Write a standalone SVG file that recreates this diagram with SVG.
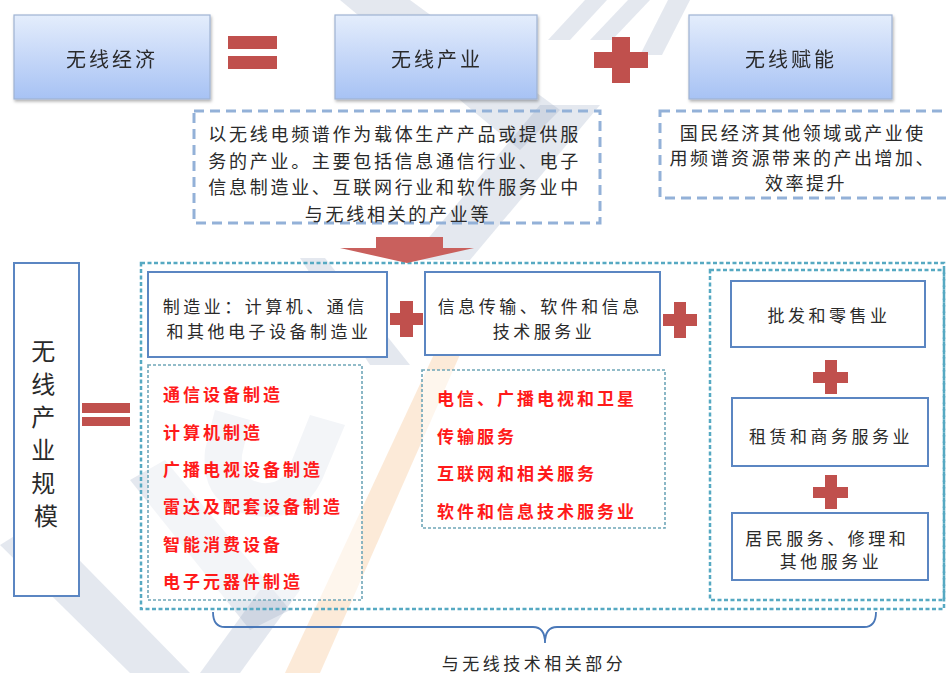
<svg xmlns="http://www.w3.org/2000/svg" width="946" height="673" viewBox="0 0 946 673">
<defs>
<linearGradient id="gTop" x1="0" y1="0" x2="0" y2="1">
<stop offset="0" stop-color="#e4edfc"/>
<stop offset="1" stop-color="#a7c2f4"/>
</linearGradient>
<filter id="sh" x="-10%" y="-10%" width="130%" height="140%">
<feDropShadow dx="1" dy="2" stdDeviation="1.5" flood-color="#000" flood-opacity="0.3"/>
</filter>
<style>
.t{font-family:"Noto Sans CJK SC","Noto Sans",sans-serif;fill:#2a2a2a;text-anchor:middle;dominant-baseline:central}
.tl{font-family:"Noto Sans CJK SC","Noto Sans",sans-serif;dominant-baseline:central}
.top{fill:url(#gTop);stroke:#9fb3d3;stroke-width:1.2}
.desc{fill:none;stroke:#93b1d8;stroke-width:3;stroke-dasharray:10 6}
.solid{fill:#fff;stroke:#5b86c2;stroke-width:2}
.outer{fill:none;stroke:#56a9c2;stroke-width:2.5;stroke-dasharray:4 2.5}
.inner{fill:#fff;fill-opacity:0.55;stroke:#6fa6b8;stroke-width:1.6;stroke-dasharray:3 2}
.op{fill:#c0504d}
.red{font-family:"Noto Sans CJK SC","Noto Sans",sans-serif;fill:#ff1a1a;font-weight:bold;font-size:17px;letter-spacing:3px;dominant-baseline:central}
.wm{fill:#8596b8;opacity:0.22}
</style>
</defs>
<rect width="946" height="673" fill="#fff"/>

<g id="watermark">
<polygon class="wm" points="340,0 410,0 560,110 520,150"/>
<polygon class="wm" points="548,40 585,0 607,0 570,40"/>
<polygon class="wm" points="590,40 628,0 650,0 612,40"/>
<polygon class="wm" points="640,55 668,0 690,0 662,55"/>
<polygon class="wm" points="540,105 600,105 470,260 410,260"/>
<polygon class="wm" points="300,258 325,258 410,365 370,365"/>
<path class="wm" d="M 345 425 L 322 480 Q 300 525 250 515 Q 200 505 205 450 L 215 410 L 250 420 L 242 455 Q 240 480 262 483 Q 285 485 292 460 L 310 415 Z"/>
<polygon class="wm" points="130,480 165,460 290,610 250,630"/>
<polygon class="wm" points="0,545 40,520 190,673 130,673"/>
<polygon class="wm" points="200,673 260,590 300,590 240,673"/>
<polygon fill="#f6c48e" opacity="0.35" points="450,320 484,300 320,673 285,673"/>
</g>

<g id="n-wireless-economy" filter="url(#sh)">
<rect class="top" x="14" y="15" width="196" height="84"/>
<text class="t" x="112" y="58" font-size="20" letter-spacing="3">无线经济</text>
</g>
<g id="n-wireless-industry" filter="url(#sh)">
<rect class="top" x="335" y="15" width="202" height="84"/>
<text class="t" x="437" y="58" font-size="20" letter-spacing="3">无线产业</text>
</g>
<g id="n-wireless-empower" filter="url(#sh)">
<rect class="top" x="689" y="15" width="203" height="84"/>
<text class="t" x="791" y="58" font-size="20" letter-spacing="3">无线赋能</text>
</g>

<g id="n-industry-desc">
<rect class="desc" x="194" y="111" width="406" height="112"/>
<text class="t" font-size="18" letter-spacing="2.7">
<tspan x="398" y="133">以无线电频谱作为载体生产产品或提供服</tspan>
<tspan x="398" y="160">务的产业。主要包括信息通信行业、电子</tspan>
<tspan x="398" y="186">信息制造业、互联网行业和软件服务业中</tspan>
<tspan x="398" y="213">与无线相关的产业等</tspan>
</text>
</g>
<g id="n-empower-desc">
<rect class="desc" x="660" y="111" width="300" height="87"/>
<text class="t" font-size="18" letter-spacing="2.5">
<tspan x="806" y="132">国民经济其他领域或产业使</tspan>
<tspan x="806" y="157">用频谱资源带来的产出增加、</tspan>
<tspan x="806" y="182">效率提升</tspan>
</text>
</g>

<g id="operators">
<rect class="op" x="228" y="36" width="49" height="13"/>
<rect class="op" x="228" y="56" width="49" height="13"/>
<rect class="op" x="594" y="52" width="54" height="16"/>
<rect class="op" x="612" y="37" width="18" height="46"/>
<rect class="op" x="82" y="403" width="48" height="10"/>
<rect class="op" x="82" y="417" width="48" height="9"/>
<rect class="op" x="390" y="313" width="33" height="12"/>
<rect class="op" x="400" y="301" width="13" height="36"/>
<rect class="op" x="663" y="314" width="34" height="12"/>
<rect class="op" x="674" y="302" width="12" height="36"/>
<rect class="op" x="813" y="372" width="35" height="11"/>
<rect class="op" x="825" y="360" width="12" height="34"/>
<rect class="op" x="813" y="487" width="35" height="11"/>
<rect class="op" x="825" y="475" width="12" height="34"/>
</g>

<g id="n-scale">
<rect class="solid" x="14" y="263" width="65" height="333"/>
<text class="t" x="46" font-size="24">
<tspan x="46" y="349">无</tspan>
<tspan x="46" y="382">线</tspan>
<tspan x="46" y="415">产</tspan>
<tspan x="46" y="448">业</tspan>
<tspan x="46" y="481">规</tspan>
<tspan x="46" y="514">模</tspan>
</text>
</g>

<g id="n-tech-related">
<rect class="outer" x="141" y="263" width="803" height="346"/>
</g>

<g id="n-manufacturing">
<rect class="solid" x="148" y="272" width="239" height="85"/>
<text class="t" font-size="17" letter-spacing="3.5">
<tspan x="269" y="305">制造业：计算机、通信</tspan>
<tspan x="269" y="330">和其他电子设备制造业</tspan>
</text>
</g>
<g id="n-it-services">
<rect class="solid" x="425" y="272" width="235" height="83"/>
<text class="t" font-size="17" letter-spacing="3.5">
<tspan x="544" y="305">信息传输、软件和信息</tspan>
<tspan x="544" y="330">技术服务业</tspan>
</text>
</g>

<g id="n-manufacturing-list">
<rect class="inner" x="148" y="365" width="214" height="235"/>
<text class="red">
<tspan x="163" y="393">通信设备制造</tspan>
<tspan x="163" y="431">计算机制造</tspan>
<tspan x="163" y="468">广播电视设备制造</tspan>
<tspan x="163" y="505">雷达及配套设备制造</tspan>
<tspan x="163" y="543">智能消费设备</tspan>
<tspan x="163" y="580">电子元器件制造</tspan>
</text>
</g>
<g id="n-it-list">
<rect class="inner" x="422" y="370" width="243" height="158"/>
<text class="red">
<tspan x="437" y="397">电信、广播电视和卫星</tspan>
<tspan x="437" y="435">传输服务</tspan>
<tspan x="437" y="472">互联网和相关服务</tspan>
<tspan x="437" y="510">软件和信息技术服务业</tspan>
</text>
</g>

<g id="n-other-services">
<rect class="outer" x="710" y="270" width="234" height="330"/>
</g>
<g id="n-wholesale">
<rect class="solid" x="731" y="281" width="194" height="66"/>
<text class="t" x="829" y="314" font-size="17" letter-spacing="3.5">批发和零售业</text>
</g>
<g id="n-leasing">
<rect class="solid" x="732" y="398" width="196" height="68"/>
<text class="t" x="831" y="435" font-size="17" letter-spacing="3.5">租赁和商务服务业</text>
</g>
<g id="n-resident">
<rect class="solid" x="732" y="513" width="196" height="67"/>
<text class="t" font-size="17" letter-spacing="3.5">
<tspan x="831" y="537">居民服务、修理和</tspan>
<tspan x="831" y="560">其他服务业</tspan>
</text>
</g>

<g id="connectors">
<polygon fill="#c9605d" points="376,237 443,237 443,248 474,248 407,263 340,248 376,248"/>
<path d="M 213 612 Q 213 627 225 627 L 533 627 Q 545 627 545 643 Q 545 627 557 627 L 864 627 Q 876 627 876 612" fill="none" stroke="#4a78b8" stroke-width="1.8"/>
</g>

<g id="label-brace">
<text class="t" x="534" y="662" font-size="17" letter-spacing="3.5">与无线技术相关部分</text>
</g>
</svg>
